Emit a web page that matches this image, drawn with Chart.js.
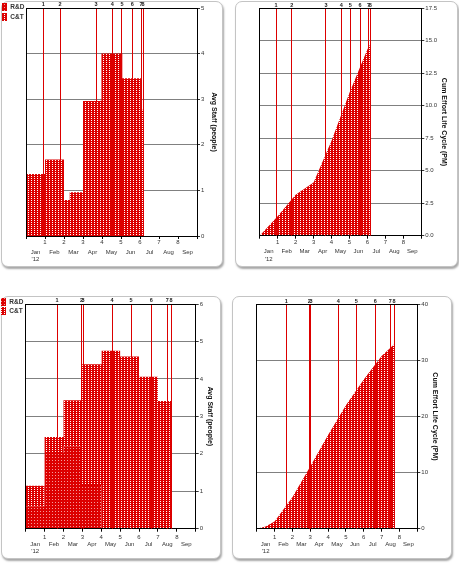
<!DOCTYPE html>
<html>
<head>
<meta charset="utf-8">
<title>Staff and effort</title>
<script src="https://cdn.jsdelivr.net/npm/chart.js@4.4.0/dist/chart.umd.min.js"></script>
<style>
  html, body { margin: 0; padding: 0; background: #fff; }
  body { width: 459px; height: 563px; position: relative; overflow: hidden; }
  .card { position: absolute; background: #fff; border: 1px solid #c4c4c4; border-radius: 7px;
          box-shadow: 1px 2px 2px rgba(0, 0, 0, 0.35); }
  canvas { position: absolute; }
</style>
</head>
<body>
<div class="card" style="left:1px;top:1px;width:220px;height:264px"></div>
<div class="card" style="left:235px;top:1px;width:221px;height:264px"></div>
<div class="card" style="left:1px;top:296px;width:218px;height:261px"></div>
<div class="card" style="left:232px;top:296px;width:218px;height:261px"></div>

<canvas id="staffTop" width="228" height="268" style="left:0;top:0;width:228px;height:268px"></canvas>
<canvas id="effortTop" width="229" height="268" style="left:230px;top:0;width:229px;height:268px"></canvas>
<canvas id="staffBottom" width="228" height="278" style="left:0;top:285px;width:228px;height:278px"></canvas>
<canvas id="effortBottom" width="229" height="278" style="left:230px;top:285px;width:229px;height:278px"></canvas>

<script>
// Colours / fonts
const RED = '#dc0000';
const FONT = "'Liberation Sans', Arial, sans-serif";

// Shared labels
const months = ['Jan', 'Feb', 'Mar', 'Apr', 'May', 'Jun', 'Jul', 'Aug', 'Sep'];
const yearLabel = "'12";
const milestoneLabels = ['1', '2', '3', '4', '5', '6', '7', '8'];
const seriesLabels = ['R&D', 'C&T'];

// Top row: staff steps (month where each step starts) and cumulative effort
const stepStartTop = [0, 1, 2, 2.3, 3, 3.97, 5.07, 6.05, 6.2];
const rdStaffTop = [0, 0, 0, 0, 0, 0, 0, 0, 0];
const ctStaffTop = [1.36, 1.68, 0.79, 0.96, 2.96, 4.0, 3.46, 2.77, 0];
const effortMonthTop = [0, 1, 2, 3, 4, 5, 6, 6.2];
const cumEffortTop = [0, 1.5, 3.15, 4.1, 7.3, 11.0, 14.35, 14.85];
const milestonesTop = [0.91, 1.79, 3.69, 4.54, 5.05, 5.59, 6.06, 6.16];

// Bottom row
const stepStartBottom = [0, 1, 2, 2.96, 4.02, 5, 6, 7, 7.72];
const rdStaffBottom = [0.6, 2.02, 2.2, 1.17, 0, 0, 0, 0, 0];
const ctStaffBottom = [0.55, 0.43, 1.23, 3.22, 4.75, 4.6, 4.06, 3.41, 0];
const effortMonthBottom = [0, 0.5, 1, 2, 3, 4, 5, 6, 7, 7.75];
const cumEffortBottom = [0, 0.4, 1.3, 5.6, 11.1, 16.7, 22.0, 26.6, 30.8, 33.0];
const milestonesBottom = [1.66, 2.95, 3.04, 4.57, 5.58, 6.65, 7.49, 7.7];

function toPoints(xs, ys) {
    return xs.map((x, i) => ({ x: x, y: ys[i] }));
}

function axisFont(size, bold) {
    return { family: FONT, size: size, weight: bold ? 'bold' : 'normal', lineHeight: 1.2 };
}

function makePattern(canvas, spot, w, h, spots) {
    const tile = document.createElement('canvas');
    tile.width = w;
    tile.height = h;
    const g = tile.getContext('2d');
    g.fillStyle = RED;
    g.fillRect(0, 0, w, h);
    g.fillStyle = spot;
    spots.forEach(p => g.fillRect(p[0], p[1], 1, 1));
    return canvas.getContext('2d').createPattern(tile, 'repeat');
}

function buildScales(o) {
    return {
        x: {
            type: 'linear', position: 'bottom', min: 0, max: 9,
            ticks: {
                stepSize: 1, autoSkip: false, maxRotation: 0, padding: o.numPad,
                color: '#333', font: axisFont(6),
                callback: v => (v >= 1 && v <= 8) ? String(v) : ''
            },
            grid: { drawOnChartArea: false, tickLength: 3, color: '#000' },
            border: { color: '#000', z: 1 },
            afterFit: s => { s.height = o.numH; }
        },
        months: {
            type: 'linear', axis: 'x', position: 'bottom', weight: 1, min: 0, max: 9,
            afterBuildTicks: s => { s.ticks = months.map((m, i) => ({ value: i + 0.5 })); },
            ticks: {
                autoSkip: false, maxRotation: 0, padding: o.monPad, color: '#333', font: axisFont(6),
                callback: (v, i) => i === 0 ? [months[0], yearLabel] : months[i]
            },
            grid: { display: false, drawTicks: false },
            border: { display: false },
            afterFit: s => { s.height = o.monH; }
        },
        ms: {
            type: 'linear', axis: 'x', position: 'top', min: 0, max: 9,
            afterBuildTicks: s => { s.ticks = o.milestones.map(v => ({ value: v })); },
            ticks: {
                autoSkip: false, maxRotation: 0, padding: 0, color: '#222', font: axisFont(5.5, true),
                callback: (v, i) => milestoneLabels[i]
            },
            grid: { color: RED, lineWidth: 1, drawTicks: false, z: 1 },
            border: { color: '#000', z: 1 },
            afterFit: s => { s.height = 7; }
        },
        yl: {
            type: 'linear', axis: 'y', position: 'left',
            ticks: { display: false },
            grid: { drawOnChartArea: false, drawTicks: false },
            border: { color: '#000', z: 1 },
            afterFit: s => { s.width = 0; }
        },
        y: {
            type: 'linear', position: 'right', min: 0, max: o.yMax, stacked: !!o.stacked,
            ticks: { stepSize: o.yStep, padding: 1, color: '#333', font: axisFont(6), callback: o.yFormat },
            grid: { color: '#808080', tickLength: 3, tickColor: '#333' },
            border: { color: '#000', z: 1 },
            title: {
                display: true, text: o.title, color: '#111', font: axisFont(7, true),
                padding: { top: o.titlePad, bottom: 0 }
            },
            afterFit: s => { s.width = o.yW; }
        }
    };
}

function buildChart(id, o, datasets) {
    const canvas = document.getElementById(id);
    return new Chart(canvas, {
        type: 'line',
        data: { datasets: datasets },
        options: {
            responsive: false,
            animation: false,
            events: [],
            layout: { autoPadding: false, padding: o.padding },
            plugins: {
                tooltip: { enabled: false },
                legend: {
                    display: !!o.legend,
                    position: 'left',
                    align: 'start',
                    maxWidth: o.legendW,
                    labels: {
                        boxWidth: 5, boxHeight: 8, padding: o.legendPad,
                        color: '#333', font: axisFont(6.5, true)
                    }
                }
            },
            scales: buildScales(o)
        }
    });
}

function staffChart(id, o, steps, rd, ct) {
    const canvas = document.getElementById(id);
    const rdPattern = makePattern(canvas, '#f39a9a', 3, 3, [[1, 1]]);
    const ctPattern = makePattern(canvas, '#ffffff', 3, 2, [[1, 0]]);
    const common = {
        stepped: true, pointRadius: 0, borderWidth: 0, borderColor: 'transparent',
        xAxisID: 'x', yAxisID: 'y'
    };
    return buildChart(id, Object.assign({ legend: true, stacked: true }, o), [
        Object.assign({ label: seriesLabels[0], data: toPoints(steps, rd), fill: 'origin', backgroundColor: rdPattern }, common),
        Object.assign({ label: seriesLabels[1], data: toPoints(steps, ct), fill: '-1', backgroundColor: ctPattern }, common)
    ]);
}

function effortChart(id, o, xs, ys) {
    const canvas = document.getElementById(id);
    const pattern = makePattern(canvas, '#ffffff', 3, 2, [[1, 0]]);
    return buildChart(id, o, [{
        label: 'Cum Effort', data: toPoints(xs, ys), fill: 'origin', tension: 0,
        backgroundColor: pattern, pointRadius: 0, borderWidth: 0, borderColor: 'transparent',
        xAxisID: 'x', yAxisID: 'y'
    }]);
}

staffChart('staffTop', {
    padding: { top: 1, left: 0, right: 0, bottom: 0 },
    legendW: 26, legendPad: 2,
    numH: 9, numPad: 0, monH: 23, monPad: 3.4,
    yW: 31, yMax: 5, yStep: 1, titlePad: 10.3,
    title: 'Avg Staff (people)', milestones: milestonesTop
}, stepStartTop, rdStaffTop, ctStaffTop);

effortChart('effortTop', {
    padding: { top: 1.3, left: 29.7, right: 0, bottom: 0 },
    numH: 9, numPad: 0, monH: 23.3, monPad: 3.4,
    yW: 37.7, yMax: 17.5, yStep: 2.5, titlePad: 10.8, yFormat: v => v.toFixed(1),
    title: 'Cum Effort Life Cycle (PM)', milestones: milestonesTop
}, effortMonthTop, cumEffortTop);

staffChart('staffBottom', {
    padding: { top: 12, left: 0, right: 0, bottom: 0 },
    legendW: 25.7, legendPad: 1,
    numH: 11, numPad: 2, monH: 23.3, monPad: 0.7,
    yW: 32.3, yMax: 6, yStep: 1, titlePad: 13.5,
    title: 'Avg Staff (people)', milestones: milestonesBottom
}, stepStartBottom, rdStaffBottom, ctStaffBottom);

effortChart('effortBottom', {
    padding: { top: 12.3, left: 26.7, right: 0, bottom: 0 },
    numH: 11, numPad: 2, monH: 23.3, monPad: 0.7,
    yW: 41.7, yMax: 40, yStep: 10, titlePad: 19.8,
    title: 'Cum Effort Life Cycle (PM)', milestones: milestonesBottom
}, effortMonthBottom, cumEffortBottom);
</script>
</body>
</html>
